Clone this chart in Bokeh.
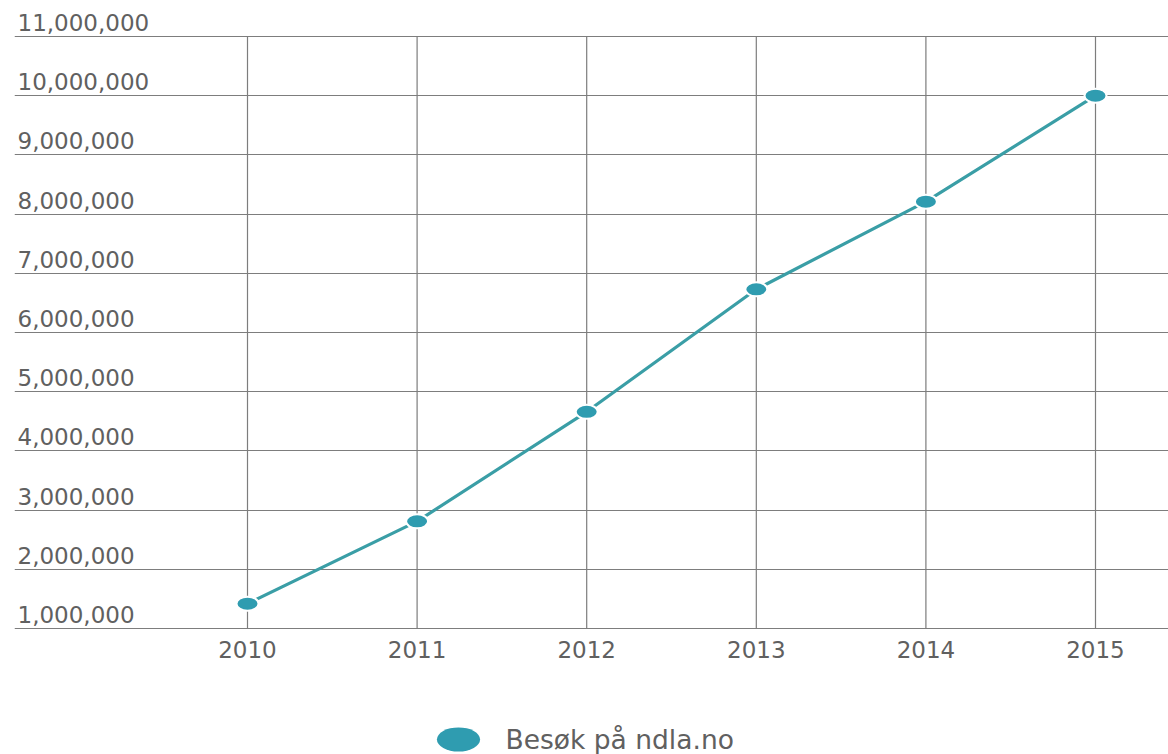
from bokeh.plotting import figure
from bokeh.layouts import column
from bokeh.models import (FixedTicker, Range1d, LabelSet, ColumnDataSource,
                          Legend, LegendItem)
from bokeh.core.properties import value
from bokeh.embed import file_html
from bokeh.resources import INLINE

# ---- data ----
years = [2010, 2011, 2012, 2013, 2014, 2015]
visits = [1420000, 2810000, 4660000, 6730000, 8210000, 10000000]
y_ticks = [1000000, 2000000, 3000000, 4000000, 5000000, 6000000,
           7000000, 8000000, 9000000, 10000000, 11000000]
y_tick_labels = ["1,000,000", "2,000,000", "3,000,000", "4,000,000",
                 "5,000,000", "6,000,000", "7,000,000", "8,000,000",
                 "9,000,000", "10,000,000", "11,000,000"]
series_name = "Besøk på ndla.no"

# ---- layout (canvas pixels) ----
W = 1168
H1 = 670                 # main chart height
H2 = 754 - H1            # legend strip height
FL, FB = 14, 629         # frame left / bottom of the main chart
px_year = 169.6
x0_px, x1_px = 247, 1095 # pixel of first / last year
x_start = years[0] - (x0_px - FL) / px_year
x_end = years[-1] + (W - x1_px) / px_year
px_unit = 59.2 / 1e6
base_px = 628            # pixel of the lowest grid line
y_start = y_ticks[0] - (FB - base_px) / px_unit
y_end = y_ticks[0] + base_px / px_unit

FONT = "DejaVu Sans"
TXT = "#606060"
GRID = "#7d7d7d"
LINE = "#3a9ea6"
DOT = "#2f9cb0"

p = figure(width=W, height=H1, output_backend="svg", toolbar_location=None,
           x_range=Range1d(x_start, x_end), y_range=Range1d(y_start, y_end),
           y_axis_location=None, tools="")
p.min_border = 0
p.min_border_left = FL
p.min_border_right = 0
p.min_border_top = 0
p.min_border_bottom = H1 - FB
p.outline_line_color = None
p.background_fill_color = "white"
p.border_fill_color = "white"

src = ColumnDataSource(dict(year=years, visits=visits))

# horizontal grid lines
p.ygrid.ticker = FixedTicker(ticks=y_ticks)
p.ygrid.grid_line_color = GRID
p.ygrid.grid_line_width = 1.2
# vertical grid lines only between lowest and highest tick
p.xgrid.visible = False
p.segment(x0=years, x1=years, y0=[y_ticks[0]] * len(years),
          y1=[y_ticks[-1]] * len(years), line_color=GRID, line_width=1.2)

# x axis
p.xaxis.ticker = FixedTicker(ticks=years)
p.xaxis.axis_line_color = None
p.xaxis.major_tick_line_color = None
p.xaxis.minor_tick_line_color = None
p.xaxis.major_tick_out = 0
p.xaxis.major_tick_in = 0
p.xaxis.major_label_standoff = 11
p.xaxis.major_label_text_font = FONT
p.xaxis.major_label_text_font_size = "23px"
p.xaxis.major_label_text_color = TXT

# y tick labels, left aligned above their grid lines
lab_src = ColumnDataSource(dict(y=y_ticks, text=y_tick_labels))
labels = LabelSet(x=3, x_units="screen", y="y", text="text", source=lab_src,
                  y_offset=14, text_align="left", text_baseline="middle",
                  text_font=value(FONT), text_font_size=value("23px"),
                  text_color=TXT)
p.add_layout(labels)

# series
p.line(x="year", y="visits", source=src, line_color=LINE, line_width=3.2)
p.ellipse(x="year", y="visits", source=src, width=22, height=14,
          width_units="screen", height_units="screen",
          fill_color=DOT, line_color="white", line_width=2)

# ---- legend strip ----
p2 = figure(width=W, height=H2, output_backend="svg", toolbar_location=None,
            x_range=Range1d(x_start, x_end), y_range=Range1d(-2e7, -1e7),
            x_axis_location=None, y_axis_location=None, tools="")
p2.min_border = 0
p2.outline_line_color = None
p2.xgrid.visible = False
p2.ygrid.visible = False
p2.background_fill_color = "white"
p2.border_fill_color = "white"
# same series drawn outside the strip's range: only its legend swatch shows
leg_r = p2.ellipse(x="year", y="visits", source=src, width=43, height=24,
                   width_units="screen", height_units="screen",
                   fill_color=DOT, line_color=None)

cy = 739 - H1            # legend centre inside the strip
legend = Legend(items=[LegendItem(label=series_name, renderers=[leg_r])],
                location=(416.5, H2 - (cy + 27)), glyph_width=54,
                glyph_height=54, label_standoff=21, padding=0, margin=0,
                spacing=0, background_fill_alpha=0, border_line_color=None,
                label_text_font=FONT, label_text_font_size="26.5px",
                label_text_color=TXT)
p2.add_layout(legend)

layout = column(p, p2, spacing=0)
open("out.html", "w").write(file_html(layout, INLINE))
